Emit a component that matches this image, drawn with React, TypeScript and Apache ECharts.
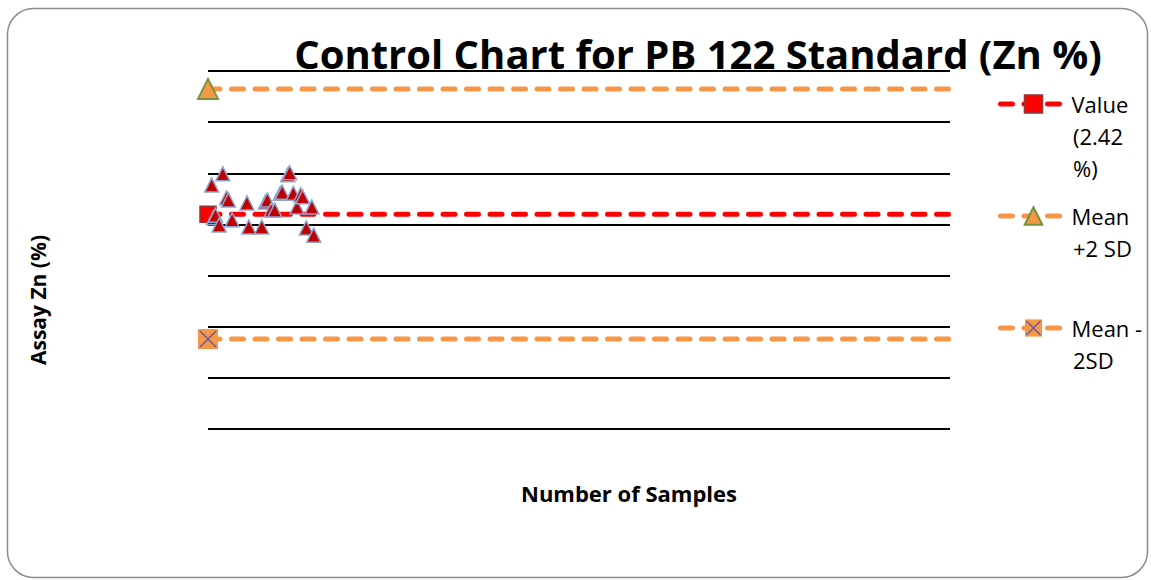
import React, { useEffect, useRef } from 'react';
import * as echarts from 'echarts';

const sampleNo = [2, 3, 4, 6, 8, 10, 11, 13, 21, 22, 29, 31, 32, 34, 36, 39, 40, 43, 44, 46, 48, 50, 51, 53, 56, 57];
const assayZn = [2.477, 2.413, 2.418, 2.399, 2.499, 2.452, 2.448, 2.409, 2.442, 2.395, 2.395, 2.444, 2.448, 2.428, 2.428, 2.461, 2.463, 2.497, 2.501, 2.461, 2.434, 2.458, 2.454, 2.393, 2.434, 2.379];
const standardValue = 2.42;
const meanPlus2SD = 2.665;
const meanMinus2SD = 2.176;
const xRange = [0, 400];
const yMin = 2.0;
const yMax = 2.7;
const yInterval = 0.1;

const seriesNames = ['Value\n(2.42\n%)', 'Mean\n+2 SD', 'Mean -\n2SD'];

const FONT = "'Open Sans'";

const crossSvg =
  "<svg xmlns='http://www.w3.org/2000/svg' width='20' height='20' viewBox='0 0 20 20'>" +
  "<rect x='0' y='0' width='20' height='20' fill='#f79646'/>" +
  "<path d='M2 2L18 18M18 2L2 18' stroke='#6b5ba6' stroke-width='1.6'/></svg>";
const crossSymbol = 'image://data:image/svg+xml;charset=utf-8,' + encodeURIComponent(crossSvg);

function refLine(value: number) {
  return [
    { value: [xRange[0], value] },
    { value: [xRange[1], value], symbol: 'none' },
  ];
}

const legendIconY = [104, 216, 328];
const LEGEND_TEXT_X = 1073;
const LEGEND_LINE_H = 32;
const LEGEND_FONT = 22;

export default function App() {
  const ref = useRef<HTMLDivElement>(null);
  useEffect(() => {
    if (!ref.current) return;
    const chart = echarts.init(ref.current, undefined, { renderer: 'svg' });
    const legends = seriesNames.map((name, i) => ({
      orient: 'vertical',
      left: 998,
      top: legendIconY[i] - LEGEND_LINE_H / 2,
      padding: 0,
      itemWidth: 66,
      itemHeight: 22,
      selectedMode: false,
      data: [name],
      formatter: (n: string) => n.split('\n')[0],
      lineStyle: { width: 5 },
      textStyle: { fontFamily: FONT, fontSize: LEGEND_FONT, lineHeight: LEGEND_LINE_H, color: '#000' },
    }));
    const extraLines: any[] = [];
    seriesNames.forEach((name, i) => {
      name.split('\n').slice(1).forEach((line, j) => {
        extraLines.push({
          type: 'text',
          x: LEGEND_TEXT_X,
          y: legendIconY[i] + (j + 1) * LEGEND_LINE_H,
          style: {
            text: line,
            font: `${LEGEND_FONT}px ${FONT}`,
            fill: '#000',
            align: 'left',
            verticalAlign: 'middle',
          },
        });
      });
    });
    chart.setOption({
      animation: false,
      grid: { left: 208, right: 201, top: 71, bottom: 151 },
      xAxis: {
        type: 'value',
        min: xRange[0],
        max: xRange[1],
        axisLine: { show: false },
        axisTick: { show: false },
        axisLabel: { show: false },
        splitLine: { show: false },
      },
      yAxis: {
        type: 'value',
        min: yMin,
        max: yMax,
        interval: yInterval,
        axisLine: { show: false },
        axisTick: { show: false },
        axisLabel: { show: false },
        splitLine: { show: true, lineStyle: { color: '#000', width: 2 } },
      },
      legend: legends,
      graphic: [
        {
          type: 'rect',
          shape: { x: 7.5, y: 8.5, width: 1140, height: 569, r: 26 },
          style: { fill: 'none', stroke: '#8c8c8c', lineWidth: 1.5 },
          silent: true,
        },
        {
          type: 'text',
          x: 698,
          y: 53,
          z: 100,
          style: {
            text: 'Control Chart for PB 122 Standard (Zn %)',
            font: `bold 40px ${FONT}`,
            fill: '#000',
            align: 'center',
            verticalAlign: 'middle',
          },
        },
        {
          type: 'text',
          x: 629,
          y: 493,
          style: {
            text: 'Number of Samples',
            font: `bold 22px ${FONT}`,
            fill: '#000',
            align: 'center',
            verticalAlign: 'middle',
          },
        },
        {
          type: 'text',
          x: 38,
          y: 300,
          rotation: Math.PI / 2,
          style: {
            text: 'Assay Zn (%)',
            font: `bold 21px ${FONT}`,
            fill: '#000',
            align: 'center',
            verticalAlign: 'middle',
          },
        },
        ...extraLines,
      ],
      series: [
        {
          name: seriesNames[0],
          type: 'line',
          symbol: 'rect',
          symbolSize: 16,
          data: refLine(standardValue),
          itemStyle: { color: '#ff0000', borderColor: '#993333', borderWidth: 1.5 },
          lineStyle: { color: '#ff0000', width: 5, type: [12, 11.5], cap: 'round' },
          z: 2,
        },
        {
          name: seriesNames[1],
          type: 'line',
          symbol: 'triangle',
          symbolSize: 20,
          data: refLine(meanPlus2SD),
          itemStyle: { color: '#f79646', borderColor: '#77933c', borderWidth: 2 },
          lineStyle: { color: '#f79646', width: 5, type: [12, 11.5], cap: 'round' },
          z: 2,
        },
        {
          name: seriesNames[2],
          type: 'line',
          symbol: crossSymbol,
          symbolSize: 20,
          data: refLine(meanMinus2SD),
          itemStyle: { color: '#f79646' },
          lineStyle: { color: '#f79646', width: 5, type: [12, 11.5], cap: 'round' },
          z: 2,
        },
        {
          name: 'Assay Zn',
          type: 'scatter',
          symbol: 'triangle',
          symbolSize: 14,
          data: sampleNo.map((x, i) => [x, assayZn[i]]),
          itemStyle: { color: '#c00000', borderColor: '#8ea5d0', borderWidth: 1.5, opacity: 1 },
          z: 3,
        },
      ],
    });
    return () => chart.dispose();
  }, []);
  return (
    <div
      ref={ref}
      style={{ position: 'fixed', left: 0, top: 0, width: 1151, height: 580, background: '#fff' }}
    />
  );
}
